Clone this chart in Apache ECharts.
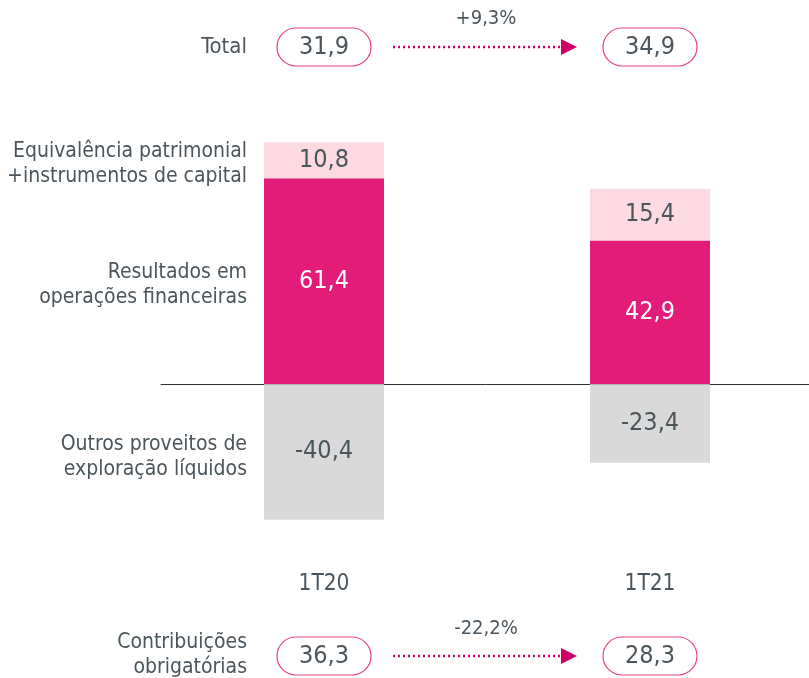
<!DOCTYPE html>
<html><head><meta charset="utf-8">
<script src="https://cdn.jsdelivr.net/npm/echarts@6/dist/echarts.min.js"></script>
<style>html,body{margin:0;padding:0;background:#fff}#c{width:809px;height:678px}</style>
</head><body><div id="c"></div>
<script>
const categories = ['1T20', '1T21'];
const resultados = [61.4, 42.9];
const equivalencia = [10.8, 15.4];
const outros = [-40.4, -23.4];
const totals = [31.9, 34.9];
const totalChange = '+9,3%';
const contribuicoes = [36.3, 28.3];
const contribChange = '-22,2%';
const names = {
  resultados: 'Resultados em\noperações financeiras',
  equivalencia: 'Equivalência patrimonial\n+instrumentos de capital',
  outros: 'Outros proveitos de\nexploração líquidos',
  total: 'Total',
  contrib: 'Contribuições\nobrigatórias'
};
const FONT = 'DejaVu Sans Condensed';
const TXT = '#4a555c';
const fmt = v => v.toFixed(1).replace('.', ',');

const chart = echarts.init(document.getElementById('c'));
const lbl = (color) => ({show: true, position: 'inside', color: color, fontSize: 25, fontFamily: FONT, formatter: p => fmt(p.value)});
chart.setOption({
  animation: false,
  textStyle: {fontFamily: FONT},
  grid: {left: 161, right: -4, top: 116, bottom: 106, outerBoundsMode: 'none', containLabel: false},
  xAxis: [
    {type: 'category', data: categories, axisLine: {onZero: true, lineStyle: {color: '#333', width: 1}}, axisTick: {show: false}, axisLabel: {show: false}},
    {type: 'category', data: categories, position: 'bottom', axisLine: {show: false}, axisTick: {show: false},
     axisLabel: {color: TXT, fontSize: 22.5, fontFamily: FONT, margin: 1}}
  ],
  yAxis: {type: 'value', min: -56, max: 80, show: false, splitLine: {show: false}},
  series: [
    {name: names.resultados, type: 'bar', stack: 's', data: resultados, barWidth: 120, itemStyle: {color: '#e31c79'}, label: lbl('#ffffff')},
    {name: names.equivalencia, type: 'bar', stack: 's', data: equivalencia, barWidth: 120, itemStyle: {color: '#fdd9e1'}, label: lbl(TXT)},
    {name: names.outros, type: 'bar', stack: 's', data: outros, barWidth: 120, itemStyle: {color: '#d9d9d9'}, label: lbl(TXT)}
  ]
});

const cx = categories.map(c => chart.convertToPixel({xAxisIndex: 0}, c));
const g = [];
function leftLabel(text, y, size) {
  g.push({type: 'text', x: 247, y: y, style: {text: text, fill: TXT, font: size + 'px "' + FONT + '"', align: 'right', verticalAlign: 'middle', lineHeight: 25}});
}
function pill(val, x, y) {
  g.push({type: 'rect', shape: {x: x - 47, y: y - 19, width: 94, height: 38, r: 19}, style: {fill: '#fff', stroke: '#e8417f', lineWidth: 1.2}});
  g.push({type: 'text', x: x, y: y, style: {text: fmt(val), fill: TXT, font: '25px "' + FONT + '"', align: 'center', verticalAlign: 'middle'}});
}
function arrow(y, pct, pctY) {
  g.push({type: 'line', shape: {x1: 393, y1: y, x2: 563, y2: y}, style: {stroke: '#cc0066', lineWidth: 2.5, lineDash: [2, 3]}});
  g.push({type: 'polygon', shape: {points: [[561, y - 8], [577, y], [561, y + 8]]}, style: {fill: '#cc0066'}});
  g.push({type: 'text', x: 486, y: pctY, style: {text: pct, fill: TXT, font: '20px "' + FONT + '"', align: 'center', verticalAlign: 'middle'}});
}
leftLabel(names.total, 47, 22);
leftLabel(names.equivalencia, 164, 21);
leftLabel(names.resultados, 285, 21);
leftLabel(names.outros, 457, 21);
leftLabel(names.contrib, 655, 21);
pill(totals[0], cx[0], 47);
pill(totals[1], cx[1], 47);
arrow(47, totalChange, 19);
pill(contribuicoes[0], cx[0], 656);
pill(contribuicoes[1], cx[1], 656);
arrow(656, contribChange, 629);
chart.setOption({graphic: g});
</script></body></html>
